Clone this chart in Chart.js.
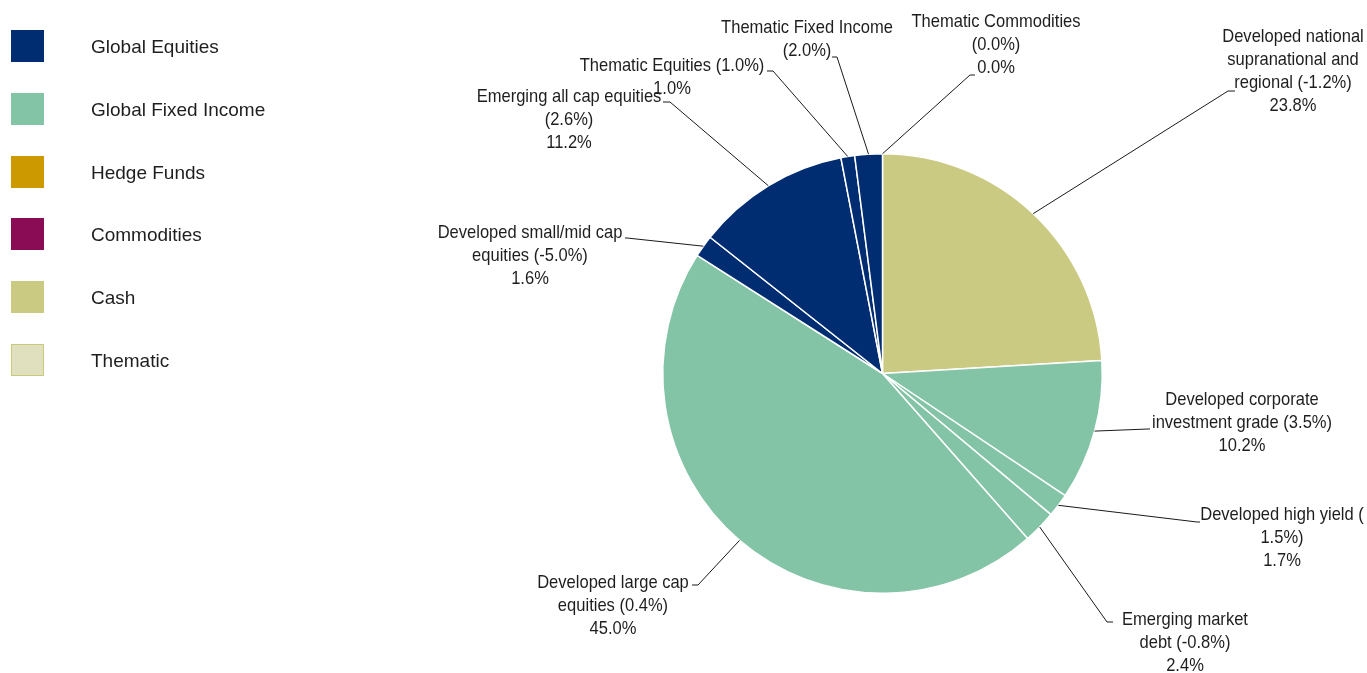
<!DOCTYPE html>
<html>
<head>
<meta charset="utf-8">
<script src="https://cdn.jsdelivr.net/npm/chart.js@4/dist/chart.umd.min.js"></script>
<style>
  html, body { margin: 0; padding: 0; background: #fff; }
  #wrap { position: relative; width: 1367px; height: 673px; overflow: hidden; }
  #pie { position: absolute; left: 0; top: 0; }
  .key { position: absolute; left: 0; height: 34px; width: 320px; }
  .key .sw { position: absolute; left: 11px; top: 0; width: 33px; height: 32px; box-sizing: border-box; }
  .key .tx { position: absolute; left: 91px; top: 1px; font: 19px "Liberation Sans", Arial, sans-serif; line-height: 32px; color: #1e1e1e; white-space: nowrap; }
</style>
</head>
<body>
<div id="wrap">
  <canvas id="pie" width="1367" height="673"></canvas>
  <div id="keys"></div>
</div>
<script>
// Asset classes shown in the key
const categories = ['Global Equities', 'Global Fixed Income', 'Hedge Funds', 'Commodities', 'Cash', 'Thematic'];

// Portfolio segments, clockwise from 12 o'clock
const segments = [
  'Developed national supranational and regional',
  'Developed corporate investment grade',
  'Developed high yield',
  'Emerging market debt',
  'Developed large cap equities',
  'Developed small/mid cap equities',
  'Emerging all cap equities',
  'Thematic Equities',
  'Thematic Fixed Income',
  'Thematic Commodities'
];
// Relative positioning (shown in brackets)
const activeWeights = [-1.2, 3.5, 1.5, -0.8, 0.4, -5.0, 2.6, 1.0, 2.0, 0.0];
// Allocation (%)
const allocations = [23.8, 10.2, 1.7, 2.4, 45.0, 1.6, 11.2, 1.0, 2.0, 0.0];
// Which key colour each segment takes
const segmentClass = ['Cash', 'Global Fixed Income', 'Global Fixed Income', 'Global Fixed Income',
  'Global Fixed Income', 'Global Equities', 'Global Equities', 'Global Equities', 'Global Equities', 'Global Equities'];

// Styling
const classColors = {
  'Global Equities': '#002D72',
  'Global Fixed Income': '#82C4A5',
  'Hedge Funds': '#CC9900',
  'Commodities': '#8A0C55',
  'Cash': '#CACA82',
  'Thematic': '#E0E0BF'
};
const keyTops = [30, 93, 156, 218, 281, 344];

// Callout placement: text centre x, first line centre y, elbow of the leader, end of the short tick,
// character positions where the text wraps, and whether the allocation line is shown
const callouts = [
  { cx: 1293, y0: 37,  elbow: [1228, 91],  tick: 1235, wrap: [18, 36], value: true },
  { cx: 1242, y0: 400, elbow: [1148, 429], tick: 1150, wrap: [19], value: true },
  { cx: 1282, y0: 515, elbow: [1197, 522], tick: 1200, wrap: [22], value: true },
  { cx: 1185, y0: 620, elbow: [1107, 622], tick: 1113, wrap: [15], value: true },
  { cx: 613,  y0: 583, elbow: [698, 585],  tick: 692,  wrap: [19], value: true },
  { cx: 530,  y0: 233, elbow: [627, 238],  tick: 625,  wrap: [23], value: true },
  { cx: 569,  y0: 97,  elbow: [670, 102],  tick: 663,  wrap: [25], value: true },
  { cx: 672,  y0: 66,  elbow: [773, 71],   tick: 767,  wrap: [],   value: true },
  { cx: 807,  y0: 28,  elbow: [837, 57],   tick: 832,  wrap: [21], value: false },
  { cx: 996,  y0: 22,  elbow: [970, 75],   tick: 975,  wrap: [20], value: true }
];
const LINE_H = 23;

// Key
const keys = document.getElementById('keys');
categories.forEach((c, i) => {
  const row = document.createElement('div');
  row.className = 'key';
  row.style.top = keyTops[i] + 'px';
  const sw = document.createElement('div');
  sw.className = 'sw';
  sw.style.background = classColors[c];
  if (c === 'Thematic') sw.style.border = '1px solid #C9C97C';
  const tx = document.createElement('div');
  tx.className = 'tx';
  tx.textContent = c;
  row.appendChild(sw);
  row.appendChild(tx);
  keys.appendChild(row);
});

const pct = v => v.toFixed(1) + '%';

function splitAt(text, cuts) {
  const out = [];
  let from = 0;
  cuts.forEach(c => { out.push(text.slice(from, c).trim()); from = c; });
  out.push(text.slice(from).trim());
  return out;
}

// Callout text: regular face, horizontally condensed
function drawText(ctx, text, x, y) {
  ctx.save();
  ctx.font = '19px "Liberation Sans", Arial, sans-serif';
  ctx.translate(x, y);
  ctx.scale(0.87, 1);
  ctx.fillText(text, 0, 0);
  ctx.restore();
}

const calloutPlugin = {
  id: 'callouts',
  afterDatasetsDraw(chart) {
    const ctx = chart.ctx;
    const meta = chart.getDatasetMeta(0);
    ctx.save();
    ctx.strokeStyle = '#1a1a1a';
    ctx.lineWidth = 1;
    ctx.fillStyle = '#1e1e1e';
    ctx.textAlign = 'center';
    ctx.textBaseline = 'middle';
    meta.data.forEach((arc, i) => {
      const L = callouts[i];
      const p = arc.getProps(['x', 'y', 'startAngle', 'endAngle', 'outerRadius'], true);
      const mid = (p.startAngle + p.endAngle) / 2;
      const sx = p.x + Math.cos(mid) * p.outerRadius;
      const sy = p.y + Math.sin(mid) * p.outerRadius;
      ctx.beginPath();
      ctx.moveTo(sx, sy);
      ctx.lineTo(L.elbow[0], L.elbow[1]);
      ctx.lineTo(L.tick, L.elbow[1]);
      ctx.stroke();

      const head = segments[i] + ' (' + pct(activeWeights[i]) + ')';
      const lines = splitAt(head, L.wrap);
      if (L.value) lines.push(pct(allocations[i]));
      lines.forEach((t, k) => drawText(ctx, t, L.cx, L.y0 + k * LINE_H));
    });
    ctx.restore();
  }
};

new Chart(document.getElementById('pie'), {
  type: 'pie',
  data: {
    labels: segments,
    datasets: [{
      data: allocations,
      backgroundColor: segmentClass.map(c => classColors[c]),
      borderColor: '#ffffff',
      borderWidth: 1.5,
      hoverOffset: 0,
      offset: 0
    }]
  },
  options: {
    responsive: false,
    devicePixelRatio: 1,
    animation: false,
    events: [],
    layout: { padding: { left: 662, right: 264, top: 153, bottom: 79 } },
    plugins: { legend: { display: false }, tooltip: { enabled: false } }
  },
  plugins: [calloutPlugin]
});
</script>
</body>
</html>
